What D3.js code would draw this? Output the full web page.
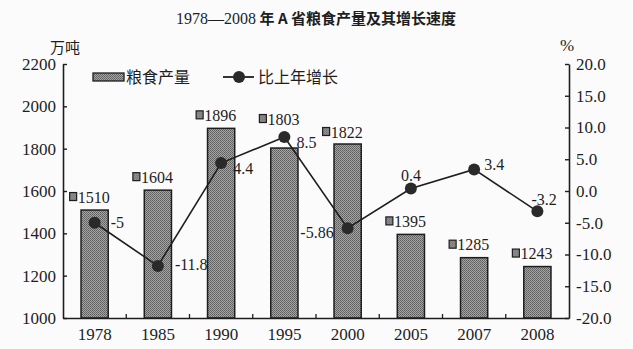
<!DOCTYPE html>
<html>
<head>
<meta charset="utf-8">
<script src="https://cdn.jsdelivr.net/npm/d3@7"></script>
<style>
  html, body { margin: 0; padding: 0; background: #fbfbfb; }
  svg { display: block; }
</style>
</head>
<body>
<div id="chart"></div>
<script>
// ---- Data ----
const years = ["1978", "1985", "1990", "1995", "2000", "2005", "2007", "2008"];
const output = [1510, 1604, 1896, 1803, 1822, 1395, 1285, 1243];      // 万吨
const growth = [-5, -11.8, 4.4, 8.5, -5.86, 0.4, 3.4, -3.2];          // %
const growthLabels = ["-5", "-11.8", "4.4", "8.5", "-5.86", "0.4", "3.4", "-3.2"];
const leftTicks = [1000, 1200, 1400, 1600, 1800, 2000, 2200];
const rightTicks = [-20, -15, -10, -5, 0, 5, 10, 15, 20];
const seriesNames = ["粮食产量", "比上年增长"];
const titleNum = "1978—2008";
const titleText = " 年 A 省粮食产量及其增长速度";

// label placement (relative offsets)
const growthLabelPos = [
  { dx: 16, dy: 0, a: "start" },
  { dx: 17, dy: -2, a: "start" },
  { dx: 12, dy: 5, a: "start" },
  { dx: 12, dy: 5, a: "start" },
  { dx: -14, dy: 4, a: "end" },
  { dx: 0, dy: -13, a: "middle" },
  { dx: 10, dy: -5, a: "start" },
  { dx: -6, dy: -12, a: "start" }
];
const barLabelLift = [13, 13, 13, 29, 12, 13, 13, 13];

const W = 633, H = 349;
const M = { left: 63, right: 64, top: 64, bottom: 31 };
const ink = "#1e1e1e";
const NUM = "Liberation Serif";
const CJK = "Noto Sans CJK SC";

const svg = d3.select("#chart").append("svg")
  .attr("width", W).attr("height", H)
  .style("background", "#fbfbfb");

// stipple pattern
const defs = svg.append("defs");
const pat = defs.append("pattern").attr("id", "stip")
  .attr("width", 2).attr("height", 2).attr("patternUnits", "userSpaceOnUse");
pat.append("rect").attr("width", 2).attr("height", 2).attr("fill", "#a4a4a4");
pat.append("rect").attr("width", 1).attr("height", 1).attr("fill", "#5e5e5e");
pat.append("rect").attr("x", 1).attr("y", 1).attr("width", 1).attr("height", 1).attr("fill", "#6c6c6c");

const x = d3.scaleBand().domain(years)
  .range([M.left, W - M.right]).paddingInner(0.57).paddingOuter(0.285);
const yL = d3.scaleLinear().domain([1000, 2200]).range([H - M.bottom, M.top]);
const yR = d3.scaleLinear().domain([-20, 20]).range([H - M.bottom, M.top]);
const cx = d => x(d) + x.bandwidth() / 2;

// title
const title = svg.append("text").attr("x", 316).attr("y", 24)
  .attr("text-anchor", "middle").attr("fill", ink);
title.append("tspan").style("font-family", NUM).style("font-size", "16px").text(titleNum);
title.append("tspan").style("font-family", CJK).style("font-size", "15px").style("font-weight", "bold").text(titleText);

// units
svg.append("text").attr("x", 50).attr("y", 53).style("font-family", CJK).style("font-size", "15px")
  .attr("fill", ink).text("万吨");
svg.append("text").attr("x", 567).attr("y", 51).attr("text-anchor", "middle")
  .style("font-family", NUM).style("font-size", "17px").attr("fill", ink).text("%");

// bars
svg.append("g").selectAll("rect").data(years).join("rect")
  .attr("x", d => x(d))
  .attr("y", (d, i) => yL(output[i]))
  .attr("width", x.bandwidth())
  .attr("height", (d, i) => yL(1000) - yL(output[i]))
  .attr("fill", "url(#stip)")
  .attr("stroke", ink).attr("stroke-width", 1.5);

function styleAxis(g) {
  g.attr("font-family", null).attr("font-size", null);
  g.select(".domain").attr("stroke", ink).attr("stroke-width", 1.6);
  g.selectAll(".tick line").attr("stroke", ink).attr("stroke-width", 1.4);
  g.selectAll(".tick text").style("font-family", NUM).style("font-size", "17px").attr("fill", ink);
}

// left axis
svg.append("g").attr("transform", `translate(${M.left},0)`)
  .call(d3.axisLeft(yL).tickValues(leftTicks).tickFormat(d3.format("d"))
    .tickSizeInner(-4).tickSizeOuter(0).tickPadding(7))
  .call(styleAxis);

// right axis
svg.append("g").attr("transform", `translate(${W - M.right},0)`)
  .call(d3.axisRight(yR).tickValues(rightTicks)
    .tickFormat(d => d3.format(".1f")(d).replace("−", "-"))
    .tickSizeInner(-4).tickSizeOuter(0).tickPadding(7))
  .call(styleAxis);

// bottom axis
svg.append("g").attr("transform", `translate(0,${H - M.bottom})`)
  .call(d3.axisBottom(x).tickSize(0).tickPadding(10))
  .call(styleAxis);
// boundary ticks (inward)
svg.append("g").selectAll("line").data(years.slice(1)).join("line")
  .attr("x1", d => x(d) - x.step() * 0.285).attr("x2", d => x(d) - x.step() * 0.285)
  .attr("y1", H - M.bottom).attr("y2", H - M.bottom - 4)
  .attr("stroke", ink).attr("stroke-width", 1.3);

// bar value labels with key square
const bl = svg.append("g").selectAll("g").data(years).join("g")
  .attr("transform", (d, i) => `translate(${cx(d)},${yL(output[i]) - barLabelLift[i]})`);
bl.append("rect").attr("x", -25).attr("y", -4.5).attr("width", 7).attr("height", 8)
  .attr("fill", "url(#stip)").attr("stroke", ink).attr("stroke-width", 1.2);
bl.append("text").attr("x", -17).attr("y", 0).attr("dy", "0.35em")
  .style("font-family", NUM).style("font-size", "16px").attr("fill", ink)
  .text((d, i) => output[i]);

// line
const line = d3.line().x((d, i) => cx(years[i])).y(d => yR(d));
svg.append("path").datum(growth).attr("d", line)
  .attr("fill", "none").attr("stroke", ink).attr("stroke-width", 1.6);
svg.append("g").selectAll("circle").data(growth).join("circle")
  .attr("cx", (d, i) => cx(years[i])).attr("cy", d => yR(d)).attr("r", 6)
  .attr("fill", "#2a2a2a");
svg.append("g").selectAll("text").data(growth).join("text")
  .attr("x", (d, i) => cx(years[i]) + growthLabelPos[i].dx)
  .attr("y", (d, i) => yR(d) + growthLabelPos[i].dy)
  .attr("dy", "0.35em")
  .attr("text-anchor", (d, i) => growthLabelPos[i].a)
  .style("font-family", NUM).style("font-size", "16px").attr("fill", ink)
  .text((d, i) => growthLabels[i]);

// legend
const lg = svg.append("g");
lg.append("rect").attr("x", 93).attr("y", 73).attr("width", 31).attr("height", 8)
  .attr("fill", "url(#stip)").attr("stroke", ink).attr("stroke-width", 1.3);
lg.append("text").attr("x", 126).attr("y", 77).attr("dy", "0.35em")
  .style("font-family", CJK).style("font-size", "16px").attr("fill", ink).text(seriesNames[0]);
lg.append("line").attr("x1", 223).attr("x2", 254).attr("y1", 77).attr("y2", 77)
  .attr("stroke", ink).attr("stroke-width", 1.8);
lg.append("circle").attr("cx", 239).attr("cy", 77).attr("r", 6).attr("fill", "#2a2a2a");
lg.append("text").attr("x", 258).attr("y", 77).attr("dy", "0.35em")
  .style("font-family", CJK).style("font-size", "16px").attr("fill", ink).text(seriesNames[1]);
</script>
</body>
</html>
